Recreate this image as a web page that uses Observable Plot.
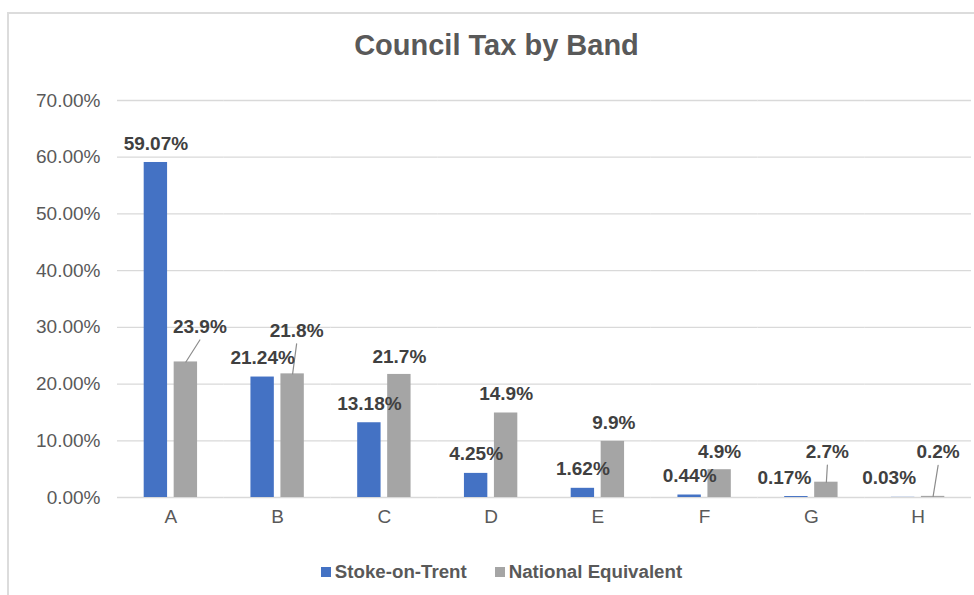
<!DOCTYPE html>
<html>
<head>
<meta charset="utf-8">
<script src="https://cdn.jsdelivr.net/npm/d3@7"></script>
<script src="https://cdn.jsdelivr.net/npm/@observablehq/plot@0.6"></script>
<style>
html, body { margin: 0; padding: 0; background: #fff; }
#page { position: relative; width: 974px; height: 595px; overflow: hidden; font-family: "Liberation Sans", Arial, sans-serif; background: #fff; }
#frame { position: absolute; left: 7px; top: 12px; width: 1000px; height: 620px; border-left: 2px solid #dcdcdc; border-top: 2px solid #dcdcdc; box-sizing: border-box; }
#title { position: relative; height: 70px; box-sizing: border-box; padding-top: 28px; padding-left: 19px; text-align: center; font-size: 29px; line-height: 34px; font-weight: bold; color: #595959; }
#chart { position: relative; height: 467px; }
#chart svg { display: block; overflow: visible; }
#legend { position: relative; margin-top: 24px; height: 22px; display: flex; justify-content: center; align-items: center; padding-left: 29px; font-size: 18.7px; line-height: 22px; font-weight: bold; color: #595959; }
.item { display: flex; align-items: center; }
.item + .item { margin-left: 28px; }
.swatch { width: 10px; height: 10px; margin-right: 4px; }
</style>
</head>
<body>
<div id="page">
  <div id="frame"></div>
  <div id="title">Council Tax by Band</div>
  <div id="chart"></div>
  <div id="legend"></div>
</div>
<script>
// ---- data ----
const bands = ["A", "B", "C", "D", "E", "F", "G", "H"];
const seriesNames = ["Stoke-on-Trent", "National Equivalent"];
const stokeValues = [59.07, 21.24, 13.18, 4.25, 1.62, 0.44, 0.17, 0.03];
const nationalValues = [23.9, 21.8, 21.7, 14.9, 9.9, 4.9, 2.7, 0.2];
const yTickValues = [0, 10, 20, 30, 40, 50, 60, 70];

// ---- styling / hand-placed label nudges (pixels), as in the source ----
const seriesColors = ["#4472c4", "#a5a5a5"];
const stokeLabelDx = [0, 0, 0, 0, 0, 0, -12, -14];
const stokeLabelDy = [-19, -19, -19, -19, -19, -19, -19, -19];
const nationalLabelDx = [14, 4, 0, 0, 1, 0, 1, 5];
const nationalLabelDy = [-35, -43, -18, -19, -18, -18, -30, -44];
const leaderBands = ["A", "B", "G", "H"];

const rows = bands.flatMap((b, i) => [
  {band: b, series: seriesNames[0], value: stokeValues[i], label: stokeValues[i].toFixed(2) + "%", dx: stokeLabelDx[i], dy: stokeLabelDy[i]},
  {band: b, series: seriesNames[1], value: nationalValues[i], label: nationalValues[i].toFixed(1) + "%", dx: nationalLabelDx[i], dy: nationalLabelDy[i]}
]);

const W = 974, mL = 117, mR = 3;
const fxPadInner = 0.5, fxPadOuter = 0.25;
const step = (W - mL - mR) / (bands.length - fxPadInner + 2 * fxPadOuter);
const gridExtend = step * fxPadOuter; // half the gap between facets

const leaderShape = {
  draw(context, l) { context.moveTo(0, 0); context.lineTo(0, -l); }
};

const labelMarks = rows.map(r => Plot.text([r], {
  fx: "band", x: "series", y: "value", text: "label",
  dx: r.dx, dy: r.dy,
  fontWeight: "bold", fontSize: 19, fill: "#404040"
}));

const leaderMarks = rows
  .filter(r => r.series === seriesNames[1] && leaderBands.includes(r.band))
  .map(r => {
    const ex = r.dx, ey = r.dy + 13;
    const len = Math.hypot(ex, ey);
    const ang = Math.atan2(ex, -ey) * 180 / Math.PI;
    return Plot.vector([r], {
      fx: "band", x: "series", y: "value",
      length: len, rotate: ang, anchor: "start", shape: leaderShape,
      stroke: "#8c8c8c", strokeWidth: 1.2
    });
  });

const chart = Plot.plot({
  width: W,
  height: 467,
  marginTop: 30,
  marginBottom: 40,
  marginLeft: mL,
  marginRight: mR,
  style: {fontFamily: "Liberation Sans, Arial, sans-serif", fontSize: "19px", color: "#595959", background: "transparent", overflow: "visible"},
  fx: {domain: bands, paddingInner: fxPadInner, paddingOuter: fxPadOuter, round: false, label: null, axis: "bottom", tickSize: 0, tickPadding: 12},
  x: {domain: seriesNames, paddingInner: 0.22, paddingOuter: 0, round: false, axis: null},
  y: {domain: [0, 70], axis: null},
  color: {domain: seriesNames, range: seriesColors},
  marks: [
    Plot.ruleY(yTickValues, {stroke: "#d9d9d9", strokeWidth: 1.3, insetLeft: -gridExtend, insetRight: -gridExtend}),
    Plot.axisY(yTickValues, {tickSize: 0, tickPadding: 17 + gridExtend, tickFormat: d => d.toFixed(2) + "%", label: null, fill: "#595959", fontSize: 19}),
    Plot.barY(rows, {fx: "band", x: "series", y: "value", fill: "series"}),
    ...leaderMarks,
    ...labelMarks
  ]
});
document.getElementById("chart").appendChild(chart);

const legend = document.getElementById("legend");
seriesNames.forEach((name, i) => {
  const item = document.createElement("div");
  item.className = "item";
  const sw = document.createElement("span");
  sw.className = "swatch";
  sw.style.background = seriesColors[i];
  const tx = document.createElement("span");
  tx.textContent = name;
  item.appendChild(sw);
  item.appendChild(tx);
  legend.appendChild(item);
});
</script>
</body>
</html>
